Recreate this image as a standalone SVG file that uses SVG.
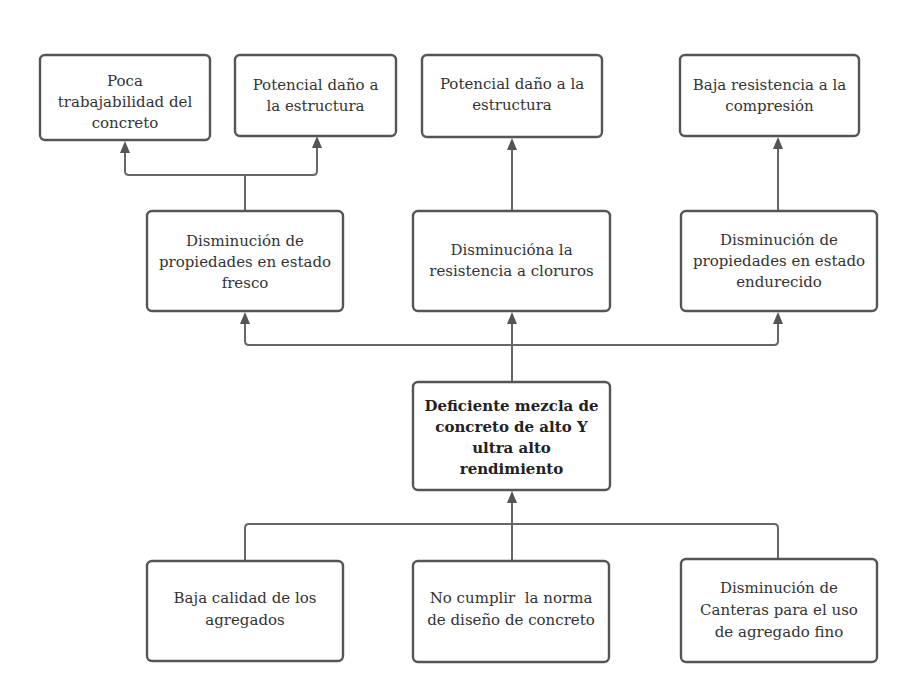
<svg xmlns="http://www.w3.org/2000/svg" width="909" height="673" viewBox="0 0 909 673">
<defs>
<style>
.box{fill:#fff;stroke:#555;stroke-width:2.4}
.t{font-family:"DejaVu Serif","Liberation Serif",serif;font-size:15px;fill:#333;text-anchor:middle}
.b{font-weight:bold;fill:#222}
.c{fill:none;stroke:#666;stroke-width:2}
</style>
</defs>
<rect width="909" height="673" fill="#fff"/>
<g id="connectors">
<path class="c" d="M245 211 V175 H129 Q125 175 125 171 V145"/>
<path class="c" d="M245 175 H313 Q317 175 317 171 V140"/>
<path class="c" d="M512 211 V142"/>
<path class="c" d="M778 211 V141"/>
<path class="c" d="M512 382 V316"/>
<path class="c" d="M512 345 H249 Q245 345 245 341 V316"/>
<path class="c" d="M512 345 H774 Q778 345 778 341 V316"/>
<path class="c" d="M245 561 V528 Q245 524 249 524 H512"/>
<path class="c" d="M778 559 V528 Q778 524 774 524 H512"/>
<path class="c" d="M512 561 V495"/>
<g fill="#555">
<path d="M125 141 L120 153 L130 153 Z"/>
<path d="M317 136 L312 148 L322 148 Z"/>
<path d="M512 138 L507 150 L517 150 Z"/>
<path d="M778 137 L773 149 L783 149 Z"/>
<path d="M245 312 L240 324 L250 324 Z"/>
<path d="M512 312 L507 324 L517 324 Z"/>
<path d="M778 312 L773 324 L783 324 Z"/>
<path d="M512 491 L507 503 L517 503 Z"/>
</g>
</g>
<g id="n1"><rect class="box" x="40" y="55" width="170" height="85" rx="5"/>
<text class="t" x="125" y="86">Poca</text><text class="t" x="125" y="107">trabajabilidad del</text><text class="t" x="125" y="128">concreto</text></g>
<g id="n2"><rect class="box" x="235" y="55" width="161" height="81" rx="5"/>
<text class="t" x="315.5" y="90">Potencial daño a</text><text class="t" x="315.5" y="111">la estructura</text></g>
<g id="n3"><rect class="box" x="422" y="55" width="180" height="82" rx="5"/>
<text class="t" x="512" y="89">Potencial daño a la</text><text class="t" x="512" y="110">estructura</text></g>
<g id="n4"><rect class="box" x="680" y="55" width="179" height="81" rx="5"/>
<text class="t" x="769.5" y="90">Baja resistencia a la</text><text class="t" x="769.5" y="111">compresión</text></g>
<g id="n5"><rect class="box" x="147" y="211" width="196" height="100" rx="5"/>
<text class="t" x="245" y="246">Disminución de</text><text class="t" x="245" y="267">propiedades en estado</text><text class="t" x="245" y="288">fresco</text></g>
<g id="n6"><rect class="box" x="413" y="211" width="197" height="100" rx="5"/>
<text class="t" x="511.5" y="255">Disminucióna la</text><text class="t" x="511.5" y="276">resistencia a cloruros</text></g>
<g id="n7"><rect class="box" x="681" y="211" width="196" height="100" rx="5"/>
<text class="t" x="779" y="245">Disminución de</text><text class="t" x="779" y="266">propiedades en estado</text><text class="t" x="779" y="287">endurecido</text></g>
<g id="n8"><rect class="box" x="413" y="382" width="197" height="108" rx="5"/>
<text class="t b" x="511.5" y="411">Deficiente mezcla de</text><text class="t b" x="511.5" y="432">concreto de alto Y</text><text class="t b" x="511.5" y="453">ultra alto</text><text class="t b" x="511.5" y="474">rendimiento</text></g>
<g id="n9"><rect class="box" x="147" y="561" width="196" height="100" rx="5"/>
<text class="t" x="245" y="603">Baja calidad de los</text><text class="t" x="245" y="625">agregados</text></g>
<g id="n10"><rect class="box" x="413" y="561" width="196" height="101" rx="5"/>
<text class="t" x="511" y="603">No cumplir&#160; la norma</text><text class="t" x="511" y="625">de diseño de concreto</text></g>
<g id="n11"><rect class="box" x="681" y="559" width="196" height="103" rx="5"/>
<text class="t" x="779" y="593">Disminución de</text><text class="t" x="779" y="615">Canteras para el uso</text><text class="t" x="779" y="637">de agregado fino</text></g>
</svg>
